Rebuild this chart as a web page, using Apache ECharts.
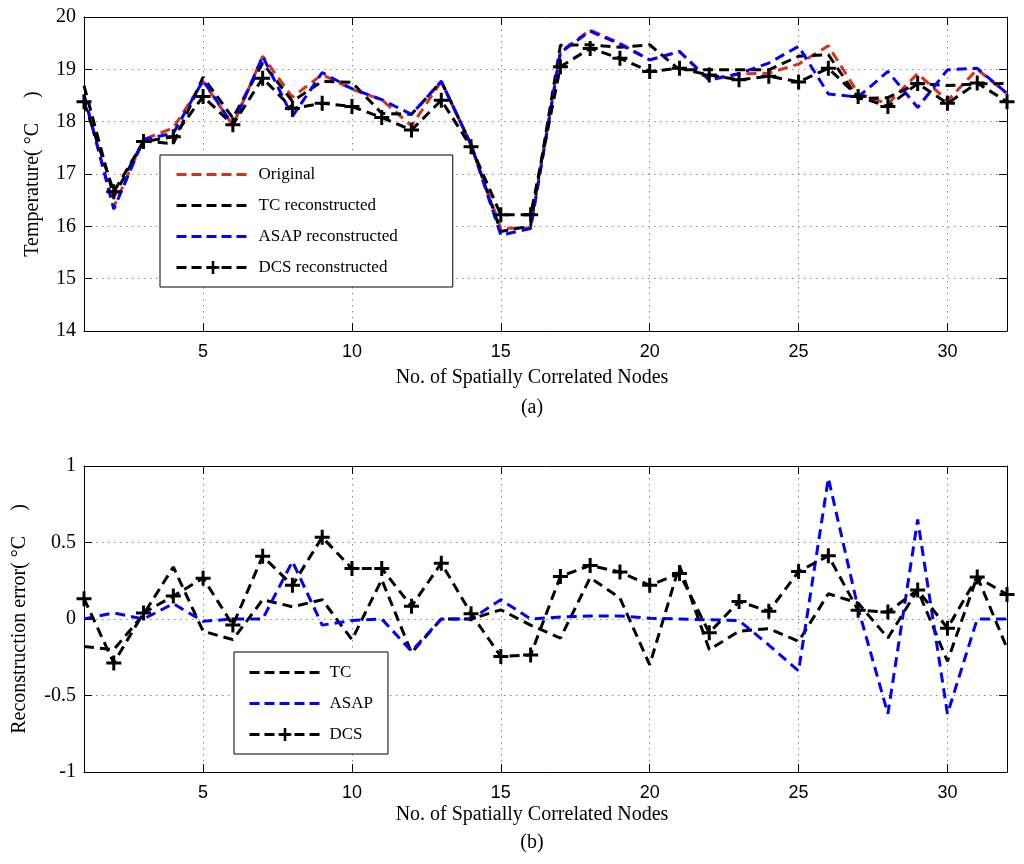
<!DOCTYPE html>
<html><head><meta charset="utf-8">
<script src="https://cdn.jsdelivr.net/npm/echarts@6/dist/echarts.min.js"></script>
<style>html,body{margin:0;padding:0;background:#fff}#c{width:1024px;height:864px}</style>
</head><body><div id="c"></div>
<script>
// ---- data ----
const nodes = [1,2,3,4,5,6,7,8,9,10,11,12,13,14,15,16,17,18,19,20,21,22,23,24,25,26,27,28,29,30,31,32];
const xTickValues = [5,10,15,20,25,30];

const original = [18.51,16.37,17.66,17.88,18.77,17.93,19.25,18.47,18.90,18.62,18.42,17.92,18.77,17.56,15.96,15.97,19.34,19.75,19.50,19.18,19.34,18.79,18.91,18.93,19.10,19.45,18.54,18.34,18.92,18.40,19.00,18.54];
const tcRecon   = [18.69,16.57,17.63,17.58,18.85,18.07,19.12,18.39,18.77,18.75,18.16,18.14,18.77,17.56,15.90,16.01,19.46,19.47,19.42,19.47,18.99,18.99,18.99,18.99,19.25,19.28,18.44,18.46,18.73,18.69,18.72,18.73];
const asapRecon = [18.51,16.33,17.66,17.78,18.79,17.93,19.25,18.10,18.94,18.63,18.42,18.14,18.77,17.56,15.83,15.96,19.32,19.73,19.48,19.18,19.34,18.80,18.92,19.12,19.44,18.53,18.47,18.96,18.27,18.99,19.02,18.54];
const dcsRecon  = [18.38,16.66,17.62,17.71,18.48,17.94,18.83,18.25,18.35,18.29,18.08,17.84,18.41,17.52,16.22,16.22,19.05,19.40,19.21,18.96,19.02,18.89,18.80,18.87,18.76,19.02,18.48,18.29,18.73,18.35,18.74,18.38];

const tcError   = [-0.18,-0.20,0.03,0.34,-0.08,-0.135,0.126,0.08,0.126,-0.135,0.257,-0.22,0.0,0.0,0.06,-0.04,-0.125,0.27,0.137,-0.30,0.35,-0.20,-0.08,-0.063,-0.146,0.165,0.104,-0.124,0.19,-0.276,0.278,-0.19];
const asapError = [0,0.04,0,0.10,-0.015,0,0,0.376,-0.04,-0.01,0,-0.21,0,0,0.126,0,0.013,0.02,0.02,0.005,0,-0.005,-0.01,-0.17,-0.34,0.92,0.07,-0.62,0.65,-0.62,0,0];
const dcsError  = [0.133,-0.287,0.04,0.15,0.267,-0.04,0.41,0.22,0.535,0.33,0.33,0.083,0.365,0.035,-0.245,-0.235,0.278,0.35,0.307,0.22,0.298,-0.09,0.115,0.05,0.31,0.413,0.057,0.046,0.19,-0.06,0.274,0.16];

const topNames = ['Original','TC reconstructed','ASAP reconstructed','DCS reconstructed'];
const bottomNames = ['TC','ASAP','DCS'];

// ---- styles ----
const SERIF = '"Liberation Serif", "Times New Roman", serif';
const SANS = '"Liberation Sans", Arial, sans-serif';
const RED = '#d9301a', BLUE = '#0000ff', BLACK = '#000000';
const PLUS = 'path://M6,0h3v6h6v3h-6v6h-3v-6h-6v-3h6z';
const pair = arr => nodes.map((x, i) => [x, arr[i]]);
const gridLine = () => ({show: true, lineStyle: {color: '#8a8a8a', type: [1.5, 4.5], width: 1}});

function xAx(gridIndex, pos, labels) {
  return {
    type: 'value', gridIndex, position: pos, min: 1, max: 32,
    axisLine: {show: true, onZero: false, lineStyle: {color: '#000', width: 1}},
    axisTick: {show: true, inside: true, length: 8, customValues: xTickValues, lineStyle: {color: '#000'}},
    axisLabel: {show: labels, customValues: xTickValues, fontFamily: SANS, fontSize: 18, color: '#000', margin: 12},
    splitLine: labels ? gridLine() : {show: false},
    name: labels ? 'No. of Spatially Correlated Nodes' : '',
    nameLocation: 'middle', nameGap: gridIndex === 0 ? 37 : 33,
    nameTextStyle: {fontFamily: SERIF, fontSize: 20, color: '#000', padding: [0, 27, 0, 0]}
  };
}
function yAx(gridIndex, pos, labels, min, max, interval, name, gap) {
  return {
    type: 'value', gridIndex, position: pos, min, max, interval,
    axisLine: {show: true, onZero: false, lineStyle: {color: '#000', width: 1}},
    axisTick: {show: true, inside: true, length: 8, lineStyle: {color: '#000'}},
    axisLabel: {show: labels, fontFamily: SERIF, fontSize: 20, color: '#000', margin: 8},
    splitLine: labels ? gridLine() : {show: false},
    name: labels ? name : '', nameLocation: 'middle', nameGap: gap,
    nameTextStyle: {fontFamily: SERIF, fontSize: 20, color: '#000'}
  };
}
function lineSeries(name, data, color, xi, yi, marker) {
  return {
    name, type: 'line', xAxisIndex: xi, yAxisIndex: yi, data: pair(data),
    symbol: marker ? PLUS : 'none', symbolSize: 15, showSymbol: !!marker,
    itemStyle: {color}, lineStyle: {color, width: 3, type: [10, 6]},
    animation: false
  };
}
// legend entries: hide the marker for series drawn without markers
function legendItems(names, markerName) {
  return names.map(n => n === markerName ? {name: n}
    : {name: n, itemStyle: {color: 'rgba(0,0,0,0)', borderColor: 'rgba(0,0,0,0)', borderWidth: 0}});
}
function legend(names, markerName, left, top, itemWidth, padding) {
  return {
    data: legendItems(names, markerName),
    orient: 'vertical', left, top, itemWidth, itemHeight: 16, itemGap: 14, padding,
    borderColor: '#000', borderWidth: 1, backgroundColor: '#fff',
    lineStyle: {width: 3, type: [10, 5]},
    textStyle: {fontFamily: SERIF, fontSize: 17, color: '#000', padding: [0, 0, 0, 4]}
  };
}

const chart = echarts.init(document.getElementById('c'), null, {renderer: 'canvas'});
chart.setOption({
  backgroundColor: '#fff',
  animation: false,
  grid: [
    {left: 84, right: 17, top: 17, height: 314},
    {left: 84, right: 17, top: 466, height: 306}
  ],
  xAxis: [xAx(0, 'bottom', true), xAx(0, 'top', false), xAx(1, 'bottom', true), xAx(1, 'top', false)],
  yAxis: [
    yAx(0, 'left', true, 14, 20, 1, 'Temperature( \u00B0C     )', 41),
    yAx(0, 'right', false, 14, 20, 1, '', 0),
    yAx(1, 'left', true, -1, 1, 0.5, 'Reconstruction error( \u00B0C     )', 54),
    yAx(1, 'right', false, -1, 1, 0.5, '', 0)
  ],
  legend: [
    legend(topNames, 'DCS reconstructed', 160, 155, 73, [11, 55, 11, 15]),
    legend(bottomNames, 'DCS', 234, 652, 71, [12, 15, 11, 14])
  ],
  graphic: [
    {type: 'text', x: 532, y: 408, style: {text: '(a)', font: '20px ' + SERIF, fill: '#000', textAlign: 'center', textVerticalAlign: 'middle'}},
    {type: 'text', x: 532, y: 843, style: {text: '(b)', font: '20px ' + SERIF, fill: '#000', textAlign: 'center', textVerticalAlign: 'middle'}}
  ],
  series: [
    lineSeries('Original', original, RED, 0, 0, false),
    lineSeries('TC reconstructed', tcRecon, BLACK, 0, 0, false),
    lineSeries('ASAP reconstructed', asapRecon, BLUE, 0, 0, false),
    lineSeries('DCS reconstructed', dcsRecon, BLACK, 0, 0, true),
    lineSeries('TC', tcError, BLACK, 2, 2, false),
    lineSeries('ASAP', asapError, BLUE, 2, 2, false),
    lineSeries('DCS', dcsError, BLACK, 2, 2, true)
  ]
});
</script>
</body></html>
